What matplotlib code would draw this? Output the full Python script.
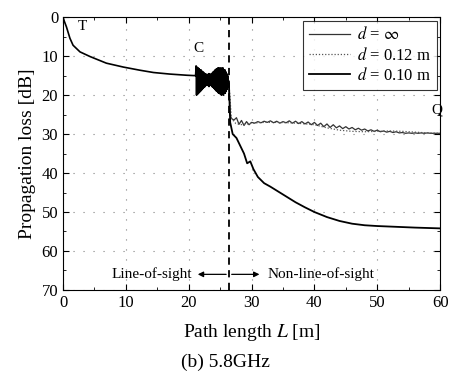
import numpy as np
import matplotlib
matplotlib.use('Agg')
import matplotlib.pyplot as plt
from matplotlib.ticker import MultipleLocator

plt.rcParams['font.family'] = ['Liberation Serif', 'DejaVu Serif']
plt.rcParams['mathtext.fontset'] = 'stix'

# line-of-sight part (shared by all three curves)
los_len = [0, 0.2, 0.55, 1.1, 1.6, 2.7, 4.3, 6.9, 9.6, 12.2, 14.4, 17.0, 19.7, 21.0]
los_loss = [0, 1.0, 2.5, 5.4, 7.2, 8.9, 10.1, 11.8, 12.8, 13.6, 14.2, 14.6, 14.9, 15.0]

# corner region C (strong fading)
c_loss = [15, 12.5, 20, 12.8, 19.8, 13, 19.5, 13.2, 19.3, 13.5, 19, 13.5, 18.8, 13.8, 18.5, 14,
          18.2, 14.2, 18, 14.5, 17.8, 14.5, 17.5, 14.8, 17.5, 14.8, 17.5, 14.5, 17.8, 14.5,
          17.5, 14.8, 17.5, 14.5, 17.8, 14.3, 18, 14, 18.2, 13.8, 18.5, 13.5, 18.8, 13.3,
          19, 13.2, 19.2, 13, 19.5, 13, 19.5, 13.2, 19.8, 13, 20, 13.2,
          19.8, 13, 20, 13.5, 19.5, 13.5, 19.5, 14, 19, 14.5, 18.5, 15, 18, 17]

# non-line-of-sight, d = inf
inf_len = [26.4, 26.6, 26.8, 27.2, 27.6, 28.0, 28.4, 28.8, 29.2, 29.6, 30.0]
inf_loss = [17.0, 25.0, 26.0, 26.4, 25.8, 27.5, 26.5, 27.8, 26.8, 27.6, 27.0]
inf_tail = [27.2, 26.8, 27.1, 26.7, 27.0, 26.6, 27.1, 26.7, 27.2, 26.8, 27.1, 26.6, 27.2, 26.7,
            27.3, 26.8, 27.4, 26.9, 27.6, 27.0, 27.8, 27.2, 28.1, 27.4, 28.3, 27.6, 28.4, 27.9,
            28.6, 28.1, 28.7, 28.3, 28.9, 28.5, 29.0, 28.7, 29.2, 28.9, 29.3, 29.0, 29.4, 29.2,
            29.5, 29.3, 29.6, 29.4, 29.7, 29.6, 29.8, 29.7, 29.8, 29.7, 29.8, 29.7, 29.8, 29.7,
            29.8, 29.8, 29.8, 29.8]

# non-line-of-sight, d = 0.12 m
d12_len = [26.4, 26.8, 27.5, 28.5, 30, 32, 34, 36, 38, 40, 42, 44, 46, 48, 50, 52, 54, 56, 58, 60]
d12_loss = [17.0, 26.0, 27.3, 27.6, 27.2, 27.0, 27.0, 27.1, 27.3, 27.6, 28.4, 29.0, 29.3, 29.4,
            29.3, 29.2, 29.3, 29.5, 29.7, 29.8]

# non-line-of-sight, d = 0.10 m
d10_len = [26.4, 26.6, 27.0, 27.6, 28.2, 28.8, 29.3, 29.8, 30.3, 31, 32, 33, 34, 35.5, 37,
           38.5, 40, 42, 44, 46, 48, 50, 53, 56, 60]
d10_loss = [17.0, 27.0, 30.0, 31.0, 33.0, 35.0, 37.5, 37.0, 39.0, 41.0, 42.6, 43.5, 44.5, 46.0,
            47.5, 48.8, 50.0, 51.3, 52.3, 53.0, 53.4, 53.6, 53.8, 54.0, 54.2]

c_len = np.linspace(21.1, 26.35, len(c_loss))
tail_len = np.linspace(30.5, 60, len(inf_tail))

los_x = los_len + list(c_len)
los_y = los_loss + c_loss

fig = plt.figure(figsize=(4.5, 3.82), dpi=100)
ax = fig.add_axes([0.14, 0.241, 0.838, 0.714])

ax.plot(los_x, los_y, color='black', lw=1.2)
ax.plot(inf_len + list(tail_len), inf_loss + inf_tail, color='#333333', lw=0.9, label=r'$d$ = $\infty$')
ax.plot(d12_len, d12_loss, color='#555555', lw=0.9, ls=(0, (1, 1.5)), label=r'$d$ = 0.12 m')
ax.plot(d10_len, d10_loss, color='black', lw=1.3, label=r'$d$ = 0.10 m')

ax.axvline(26.4, color='black', lw=1.3, ls=(0, (4, 3)))

ax.set_xlim(0, 60)
ax.set_ylim(70, 0)
ax.xaxis.set_major_locator(MultipleLocator(10))
ax.yaxis.set_major_locator(MultipleLocator(10))
ax.xaxis.set_minor_locator(MultipleLocator(5))
ax.yaxis.set_minor_locator(MultipleLocator(5))
ax.tick_params(which='both', direction='in', top=True, right=True, labelsize=12)
ax.tick_params(which='major', length=4)
ax.tick_params(which='minor', length=2)
ax.grid(True, color='gray', lw=0.8, ls=(0, (1, 8)))

ax.text(2.4, 3.3, 'T', fontsize=11)
ax.text(20.7, 9, 'C', fontsize=11)
ax.text(58.6, 24.6, 'Q', fontsize=11)

ax.annotate('', xy=(21.0, 66), xytext=(26.4, 66),
            arrowprops=dict(arrowstyle='-|>', color='black', lw=0.9, mutation_scale=8))
ax.annotate('', xy=(31.7, 66), xytext=(26.4, 66),
            arrowprops=dict(arrowstyle='-|>', color='black', lw=0.9, mutation_scale=8))
ax.text(20.5, 66, 'Line-of-sight', fontsize=11, ha='right', va='center')
ax.text(32.5, 66, 'Non-line-of-sight', fontsize=11, ha='left', va='center')

ax.set_xlabel(r'Path length $L$ [m]', fontsize=14, labelpad=8)
ax.set_ylabel('Propagation loss [dB]', fontsize=14, labelpad=4)
fig.text(0.5, 0.04, '(b) 5.8GHz', fontsize=14, ha='center')

leg = ax.legend(loc='upper right', fontsize=12, frameon=True, fancybox=False,
                edgecolor='black', handlelength=2.5, borderaxespad=0.2,
                labelspacing=0.2, borderpad=0.35, handletextpad=0.4)
leg.get_frame().set_linewidth(0.8)

plt.savefig('out.png', dpi=100)
